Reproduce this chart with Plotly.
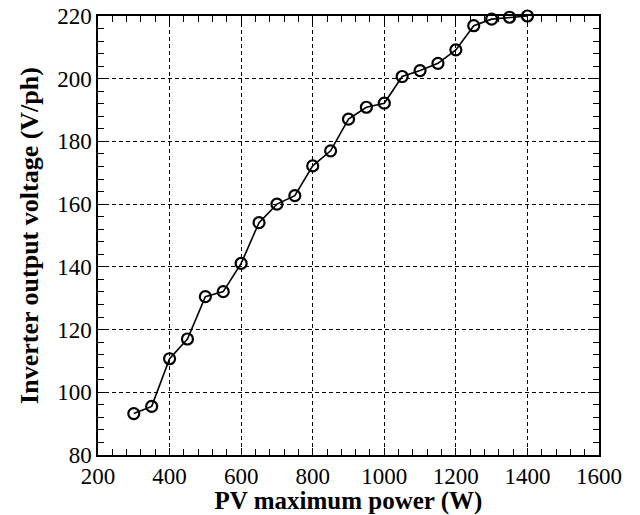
import plotly.graph_objects as go

pv_power = [300, 350, 400, 450, 500, 550, 600, 650, 700, 750, 800, 850,
            900, 950, 1000, 1050, 1100, 1150, 1200, 1250, 1300, 1350, 1400]
voltage = [93.2, 95.5, 110.7, 117.0, 130.5, 132.1, 141.1, 154.1, 160.0, 162.7,
           172.2, 177.0, 187.1, 190.9, 192.2, 200.7, 202.6, 204.9, 209.2,
           216.9, 219.0, 219.6, 220.0]
x_range = [200, 1600]
y_range = [80, 220]

fig = go.Figure()
fig.add_trace(go.Scatter(
    x=pv_power, y=voltage, mode="lines+markers",
    line=dict(color="black", width=1.6),
    marker=dict(symbol="circle-open", size=11, color="black",
                line=dict(color="black", width=2.2)),
    cliponaxis=False, showlegend=False))

serif = "Liberation Serif, Times New Roman, serif"
font_tick = dict(family=serif, size=23, color="black")

common = dict(showline=True, linecolor="black", linewidth=1.5, mirror="allticks",
              ticks="inside", ticklen=7, tickcolor="black", tickwidth=1.3,
              showgrid=True, gridcolor="black", gridwidth=1, griddash="4px,3px",
              zeroline=False, tickfont=font_tick, tickmode="linear", automargin=False)

fig.update_xaxes(range=x_range, tick0=200, dtick=200, ticklabelstandoff=0,
                 minor=dict(tick0=200, dtick=40, ticks="inside", ticklen=6,
                            tickcolor="black", tickwidth=1.3, showgrid=False),
                 title=dict(text="<b>PV maximum power (W)</b>",
                            font=dict(family=serif, size=25, color="black"), standoff=2),
                 **common)
fig.update_yaxes(range=y_range, tick0=80, dtick=20,
                 minor=dict(tick0=80, dtick=4, ticks="inside", ticklen=6,
                            tickcolor="black", tickwidth=1.3, showgrid=False),
                 title=dict(text="<b>Inverter output voltage (V/ph)</b>",
                            font=dict(family=serif, size=26, color="black"), standoff=11),
                 **common)

fig.update_layout(width=640, height=515, plot_bgcolor="white", paper_bgcolor="white",
                  margin=dict(l=98, r=41, t=16, b=60))

fig.write_html("out.html")
